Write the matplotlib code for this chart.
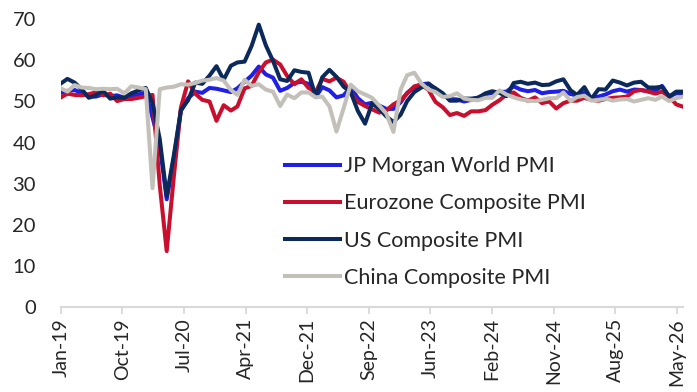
import numpy as np
import pandas as pd
import matplotlib
matplotlib.use("Agg")
from matplotlib import pyplot as plt
import matplotlib.dates as mdates

plt.rcParams['font.family'] = ['Lato', 'DejaVu Sans']

# monthly, Jan-19 .. May-26
dates = pd.date_range('2019-01-31', '2026-05-31', freq='ME')

jpm_world = [52.1, 52.6, 52.8, 52.1, 51.2, 51.2, 51.7, 51.3, 51.5, 50.9, 51.5, 51.7,
             52.2, 46.1, 39.4, 26.2, 36.3, 47.7, 50.8, 52.4, 52.1, 53.3, 53.1, 52.7,
             52.3, 53.2, 54.8, 56.3, 58.5, 56.6, 55.8, 52.6, 53.3, 54.5, 54.8, 54.3,
             51.1, 53.5, 52.7, 51.0, 51.5, 53.5, 50.8, 49.3, 49.7, 49.0, 48.2, 48.2,
             49.8, 52.1, 53.4, 54.2, 54.4, 52.7, 51.6, 50.6, 50.5, 50.0, 50.4, 51.0,
             51.8, 52.1, 52.3, 52.4, 53.7, 52.9, 52.5, 52.8, 52.0, 52.3, 52.4, 52.6,
             51.8, 51.5, 52.1, 50.8, 51.2, 51.7, 52.5, 52.9, 52.4, 52.9, 52.8, 52.5,
             52.6, 53.8, 51.2, 52.0, 52.0]

eurozone = [51.0, 51.9, 51.6, 51.5, 51.8, 52.2, 51.5, 51.9, 50.1, 50.6, 50.6, 50.9,
            51.3, 51.6, 29.7, 13.6, 31.9, 48.5, 54.9, 51.9, 50.4, 50.0, 45.3, 49.1,
            47.8, 48.8, 53.2, 53.8, 57.1, 59.5, 60.2, 59.0, 56.2, 54.2, 55.4, 53.3,
            52.3, 55.5, 54.9, 55.8, 54.8, 52.0, 49.9, 48.9, 48.1, 47.3, 47.8, 49.3,
            50.3, 52.0, 53.7, 54.1, 52.8, 49.9, 48.6, 46.7, 47.2, 46.5, 47.6, 47.6,
            47.9, 49.2, 50.3, 51.7, 52.2, 50.9, 50.2, 51.0, 49.6, 50.0, 48.3, 49.6,
            50.2, 50.2, 50.9, 50.4, 50.2, 50.6, 50.9, 51.0, 51.2, 52.5, 52.8, 52.4,
            51.9, 52.4, 51.2, 49.3, 48.7]

us = [54.4, 55.5, 54.6, 53.0, 50.9, 51.5, 52.6, 50.7, 51.0, 50.9, 52.0, 52.7,
      53.3, 49.6, 40.9, 27.0, 37.0, 47.9, 50.3, 54.6, 54.3, 56.3, 58.6, 55.3,
      58.7, 59.5, 59.7, 63.5, 68.7, 63.7, 59.9, 55.4, 55.0, 57.6, 57.2, 57.0,
      51.1, 55.9, 57.7, 56.0, 53.6, 52.3, 47.7, 44.6, 49.5, 48.2, 46.4, 45.0,
      46.8, 50.1, 52.3, 53.4, 54.3, 53.2, 52.0, 50.2, 50.2, 50.7, 50.7, 50.9,
      52.0, 52.5, 52.1, 51.3, 54.5, 54.8, 54.3, 54.6, 54.0, 54.1, 54.9, 55.4,
      52.7, 51.6, 53.5, 50.6, 53.0, 52.9, 55.1, 54.6, 53.9, 54.6, 54.8, 53.4,
      53.4, 53.6, 51.2, 52.4, 52.4]

china = [53.2, 52.4, 54.0, 53.4, 53.3, 53.0, 53.1, 53.0, 53.1, 52.0, 53.7, 53.4,
         53.0, 28.9, 53.0, 53.4, 53.6, 54.2, 54.1, 54.5, 55.1, 55.3, 55.7, 55.1,
         52.8, 51.6, 55.3, 53.8, 54.2, 52.9, 52.4, 48.9, 51.7, 50.8, 52.2, 52.2,
         51.0, 51.2, 48.8, 42.7, 48.4, 54.1, 52.5, 51.7, 50.9, 49.0, 47.1, 42.6,
         52.9, 56.4, 57.0, 54.4, 52.9, 52.3, 51.1, 51.3, 52.0, 50.7, 50.4, 50.3,
         50.9, 50.9, 52.7, 51.7, 51.0, 50.5, 50.2, 50.1, 50.4, 50.8, 50.8, 52.2,
         50.1, 51.1, 51.4, 50.2, 50.4, 50.7, 50.2, 50.5, 50.6, 50.0, 50.4, 50.8,
         50.4, 51.2, 50.1, 50.8, 51.2]

tick_labels = ['Jan-19', 'Oct-19', 'Jul-20', 'Apr-21', 'Dec-21', 'Sep-22',
               'Jun-23', 'Feb-24', 'Nov-24', 'Aug-25', 'May-26']

fig = plt.figure(figsize=(6.97, 3.92), dpi=100)
ax = fig.add_axes([60.9/697, 1-307/392, (683.4-60.9)/697, (307-19.3)/392])

lw = 2.9
ax.plot(dates, jpm_world, color='#1f1fe6', lw=lw, label='JP Morgan World PMI')
ax.plot(dates, eurozone, color='#c8102e', lw=lw, label='Eurozone Composite PMI')
ax.plot(dates, us, color='#0b2a5b', lw=lw, label='US Composite PMI')
ax.plot(dates, china, color='#c3bfb9', lw=lw, label='China Composite PMI')

x0 = mdates.date2num(dates[0])
ax.set_xlim(x0, mdates.date2num(dates[-1]))
ax.set_xticks(x0 + 264.8*np.arange(len(tick_labels)))
ax.set_xticklabels(tick_labels, rotation=90, fontsize=14, color='#262626')
ax.set_ylim(0, 70)
ax.set_yticks(np.arange(0, 71, 10))
ax.tick_params(axis='y', length=0, pad=18, labelsize=14.5, labelcolor='#262626')
ax.tick_params(axis='x', length=5, width=1.3, color='#d9d9d9', pad=3)

for s in ['top', 'right', 'left']:
    ax.spines[s].set_visible(False)
ax.spines['bottom'].set_color('#d9d9d9')
ax.spines['bottom'].set_linewidth(1.5)

leg = ax.legend(loc='center left', bbox_to_anchor=(285/697, 1-222/392),
                bbox_transform=fig.transFigure, frameon=False, fontsize=15.5,
                handlelength=2.55, handletextpad=0.2, labelspacing=0.8,
                borderpad=0, borderaxespad=0)
for t in leg.get_texts():
    t.set_color('#262626')

plt.savefig('out.png', dpi=100)
